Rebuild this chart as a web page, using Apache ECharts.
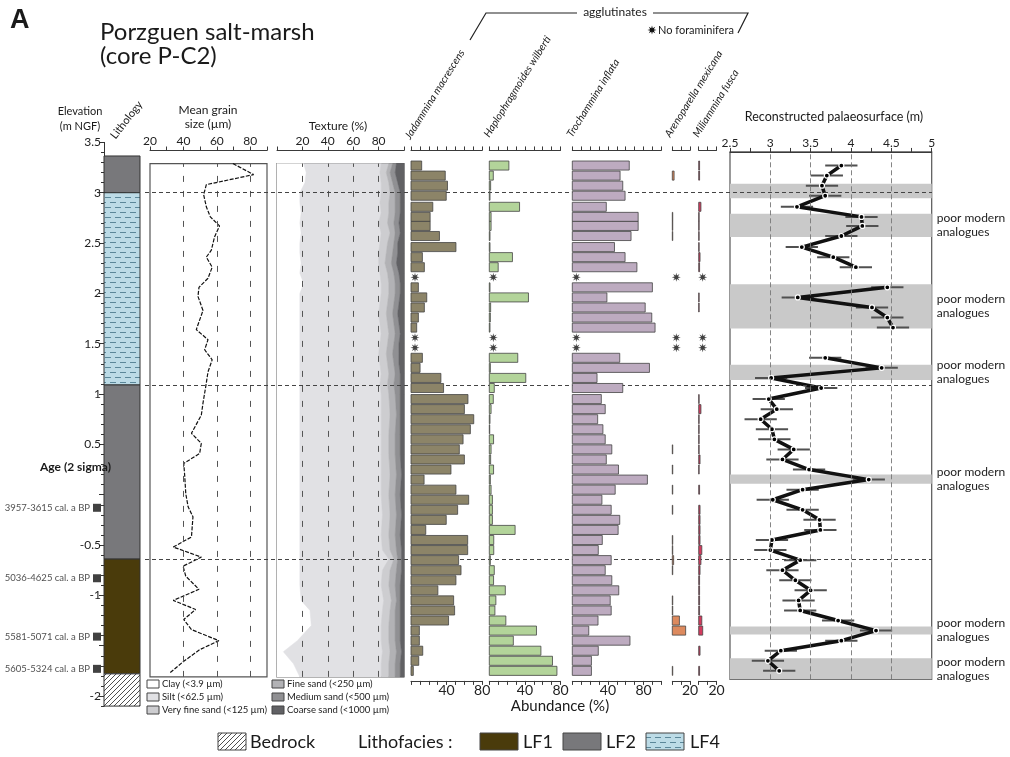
<!DOCTYPE html>
<html><head><meta charset="utf-8">
<script src="https://cdn.jsdelivr.net/npm/echarts/dist/echarts.min.js"></script>
<style>html,body{margin:0;padding:0;background:#fff}#c{width:1010px;height:757px}</style>
</head><body><div id="c"></div>
<script>
const FONT = 'Lato, "Open Sans", sans-serif';
function hasFont(name) {
  const g = document.createElement('canvas').getContext('2d');
  const s = '3957-3615 cal. a BP mmmWWiil';
  g.font = '20px monospace'; const a = g.measureText(s).width;
  g.font = '20px "' + name + '", monospace'; const b = g.measureText(s).width;
  return Math.abs(a - b) > 0.5;
}
const NARROW_OK = hasFont('Liberation Sans Narrow');
const NARROW = NARROW_OK ? '"Liberation Sans Narrow", ' + FONT : FONT;
const NARROW_SIZE = NARROW_OK ? 11 : 9.5;

// ---------------- DATA ----------------
const elevTickValues = [-2, -1.5, -1, -0.5, 0, 0.5, 1, 1.5, 2, 2.5, 3, 3.5];
const elevLabelValues = [-2, -1, -0.5, 0.5, 1, 1.5, 2, 2.5, 3, 3.5];

const lithoTop    = [3.365, 3.0, 1.09, -0.64, -1.78];
const lithoBottom = [3.0, 1.09, -0.64, -1.78, -2.1];
const lithoType   = ['LF2', 'LF4', 'LF2', 'LF1', 'Bedrock'];
const unitBoundaries = [3.0, 1.09, -0.64];

const ageLabels = ['3957-3615 cal. a BP', '5036-4625 cal. a BP', '5581-5071 cal. a BP', '5605-5324 cal. a BP'];
const ageElev   = [-0.13, -0.83, -1.41, -1.73];

const gsDepth = [3.29, 3.18, 3.08, 2.98, 2.86, 2.76, 2.67, 2.56, 2.43, 2.36, 2.26, 2.15, 2.06, 1.97, 1.83, 1.64, 1.54, 1.44, 1.34, 1.22,
  1.11, 0.91, 0.79, 0.61, 0.51, 0.41, 0.31, 0.18, 0.01, -0.12, -0.22, -0.42, -0.52, -0.62, -0.71, -0.81, -0.94, -1.05, -1.14, -1.24,
  -1.34, -1.45, -1.54, -1.66, -1.77];
const gsValue = [69.6, 82, 53.7, 52.1, 53.7, 56.1, 61.6, 58.6, 56.7, 53.7, 57.2, 54.7, 49.3, 48.7, 51.7, 47.7, 54.7, 52.7, 57.2, 54.7,
  53.7, 51.7, 50.7, 44.8, 50.7, 49.7, 40.2, 40.8, 41.4, 42.8, 45.7, 44.8, 33.9, 50.7, 39.8, 41.4, 49.3, 33.9, 47.3, 40.2,
  44.8, 61.2, 49.7, 39.8, 31.9];

const texDepth = [3.29, 3.20, 3.10, 3.00, 2.90, 2.80, 2.70, 2.60, 2.50, 2.40, 2.30, 2.20, 2.10, 2.00, 1.90, 1.80, 1.70, 1.60, 1.50, 1.40,
  1.30, 1.20, 1.10, 1.00, 0.80, 0.60, 0.40, 0.20, 0.00, -0.20, -0.40, -0.55, -0.64, -0.75, -0.90, -1.05, -1.15, -1.30, -1.45, -1.56, -1.68, -1.81];
const texClay   = [21,23,22,18,18,19,18,19,18,18, 19,18,21,18,18,18,18,18,18,18, 18,18,18,18,18,18,18,18,18,18, 18,18,18,18,18,19,26,27,16,5, 13,18];
const texSilt   = [61,58,60,64,63,63,62,63,63,62, 61,63,61,64,63,62,63,64,63,62, 63,64,63,64,64,64,64,64,64,65, 64,65,70,65,64,65,57,55,66,78, 69,64];
const texVfSand = [6,5,6,7,7,6,7,7,6,6, 5,6,6,6,6,6,6,6,6,6, 6,6,6,6,7,6,6,7,6,6, 6,6,4,6,6,6,6,6,6,6, 6,6];
const texFSand  = [3,3,3,4,5,5,5,4,5,5, 5,5,5,5,5,5,5,5,5,5, 5,5,5,5,5,5,5,5,5,5, 5,5,3,5,5,4,4,5,5,5, 5,5];
const texMSand  = [3,4,4,4,4,4,4,4,3,4, 4,4,4,4,4,4,4,4,4,5, 4,4,5,4,3,4,4,4,4,4, 4,4,3,4,4,3,4,4,4,4, 4,4];
const texCSand  = [6,7,5,3,3,3,4,3,5,5, 6,4,3,3,4,5,4,3,4,4, 4,3,3,3,3,3,3,2,3,2, 3,2,2,2,3,3,3,3,3,2, 3,3];

const sampleDepth = [3.27, 3.17, 3.07, 2.97, 2.86, 2.76, 2.67, 2.57, 2.46, 2.36, 2.26, 2.16, 2.06, 1.96, 1.86, 1.76, 1.66, 1.56, 1.46, 1.36,
  1.26, 1.16, 1.06, 0.95, 0.85, 0.75, 0.65, 0.55, 0.45, 0.35, 0.25, 0.15, 0.05, -0.05, -0.15, -0.25, -0.35, -0.45, -0.55, -0.65,
  -0.75, -0.85, -0.95, -1.05, -1.15, -1.25, -1.35, -1.45, -1.55, -1.65, -1.75];
// null = no foraminifera
const jadammina = [12, 38.5, 41, 39.6, 24.5, 21.5, 21.5, 32, 50.5, 12.8, 15, null, 8.3, 17.7, 15, 8.3, 6.4, null, null, 12.8,
  10.2, 33.6, 36.6, 64, 60, 70.5, 66.7, 58.5, 54.3, 60, 44.9, 14.7, 50.5, 64.8, 52.4, 39.6, 16.6, 63.7, 63.7, 53.5,
  56.2, 50.5, 30.2, 47.9, 49, 42.2, 9.4, 9.4, 13.2, 8.7, 2.6];
const haplophragmoides = [22, 4.5, 1.5, 0.8, 34, 2, 2, 0.8, 0.8, 26, 10, null, 0.8, 44, 1.5, 1.2, 0.8, null, null, 32,
  1.2, 41, 5.6, 4.5, 2, 0.8, 0.5, 4.8, 2, 1.5, 4.8, 1.2, 2, 3.5, 3.5, 3.5, 29, 5, 5, 1.2,
  5.6, 4.8, 18, 7.4, 6.3, 18.6, 53, 27, 58, 71, 76];
const trochammina = [64, 53.7, 56.7, 59.3, 38.2, 74, 74, 66, 47.4, 59.3, 72.6, null, 90, 38.9, 81.9, 89.3, 93, null, null, 53.3,
  86.7, 27.8, 56.7, 32.6, 37, 28.5, 34.4, 37, 44.4, 38.2, 51.9, 84.4, 48.2, 33.3, 43.7, 53.3, 51.5, 33.7, 29.2, 43.7,
  37, 44.4, 52.2, 42.6, 43.7, 28.9, 18.5, 64.8, 29.2, 21.5, 21.5];
const arenoparella = [0, 2, 0, 0, 0, 0.5, 0.5, 0.5, 0, 0, 0, null, 0, 0, 0, 0, 0, null, null, 0,
  0, 0, 0, 0, 0, 0, 0, 0, 0.5, 0, 0.5, 0, 0.5, 0, 0.5, 0, 0, 0.5, 0.5, 1.5,
  0.5, 0, 0, 0.5, 0.5, 8, 15, 0, 0, 0, 0.5];
const miliammina = [1, 1, 0, 0, 2.5, 0.5, 0.5, 0.5, 0.5, 1.5, 1, null, 0, 0.5, 0.5, 0, 0, null, null, 0,
  0, 0, 0, 0.5, 2.5, 0.5, 0.5, 0.5, 0.5, 1.5, 0.5, 0, 1, 0, 1.5, 1.5, 1.5, 1.5, 3.5, 2.5,
  1.5, 1, 1, 1, 1, 3.5, 4.5, 0, 1.5, 0, 1];

const palaeo = [3.88, 3.70, 3.64, 3.68, 3.33, 4.13, 4.14, 3.88, 3.39, 3.78, 4.06, null, 4.45, 3.34, 4.26, 4.45, 4.52, null, null, 3.68,
  4.38, 3.01, 3.63, 2.98, 3.08, 2.88, 3.02, 3.05, 3.29, 3.15, 3.48, 4.22, 3.40, 3.03, 3.40, 3.61, 3.62, 3.02, 3.00, 3.37,
  3.15, 3.31, 3.50, 3.35, 3.37, 3.84, 4.31, 3.88, 3.13, 2.97, 3.11];
const palaeoErr = [0.2, 0.2, 0.2, 0.2, 0.2, 0.2, 0.2, 0.2, 0.2, 0.2, 0.2, null, 0.2, 0.2, 0.2, 0.2, 0.2, null, null, 0.2,
  0.2, 0.2, 0.2, 0.2, 0.2, 0.2, 0.2, 0.2, 0.2, 0.2, 0.2, 0.2, 0.2, 0.2, 0.2, 0.2, 0.2, 0.2, 0.2, 0.2,
  0.2, 0.2, 0.2, 0.2, 0.2, 0.2, 0.2, 0.2, 0.2, 0.2, 0.2];

const poorTop    = [3.09, 2.79, 2.09, 1.29, 0.20, -1.31, -1.625];
const poorBottom = [2.945, 2.56, 1.65, 1.14, 0.11, -1.39, -1.834];
const poorLabelled = [false, true, true, true, true, true, true];

// ---------------- LAYOUT ----------------
const K = 100.66, Y0 = 494.7;           // px per metre, pixel row of 0 m
function vgrid(left, width, maxE, minE, extra) {
  return Object.assign({left: left, width: width, top: Y0 - maxE * K, height: (maxE - minE) * K,
    containLabel: false, outerBoundsMode: 'none'}, extra || {});
}
function hidden(gi, min, max) { return {gridIndex: gi, type: 'value', min: min, max: max, show: false}; }
const AXC = '#3a3a3a';
function xAx(gi, pos, min, max, interval, labels, offset, fs) {
  return {gridIndex: gi, type: 'value', position: pos, offset: offset || 0, min: min, max: max, interval: interval,
    axisLine: {show: true, onZero: false, lineStyle: {color: AXC, width: 1}},
    axisTick: {show: true, inside: false, length: 4, lineStyle: {color: AXC}},
    axisLabel: {show: labels.length > 0, margin: 3, fontSize: fs || 12, color: '#222', fontFamily: FONT,
      showMinLabel: true, showMaxLabel: true,
      formatter: v => labels.some(l => Math.abs(l - v) < 1e-9) ? String(v) : ''},
    splitLine: {show: false}, minorTick: {show: false}};
}

function makePattern(kind) {
  const c = document.createElement('canvas');
  const g = c.getContext('2d');
  if (kind === 'LF4') {
    c.width = 10; c.height = 10;
    g.fillStyle = '#bcdbe6'; g.fillRect(0, 0, 10, 10);
    g.strokeStyle = '#5b8799'; g.lineWidth = 1; g.beginPath();
    g.moveTo(0, 2.5); g.lineTo(6, 2.5);
    g.moveTo(5, 7.5); g.lineTo(10, 7.5); g.moveTo(0, 7.5); g.lineTo(1, 7.5);
    g.stroke();
  } else {
    c.width = 5; c.height = 5;
    g.fillStyle = '#ffffff'; g.fillRect(0, 0, 5, 5);
    g.strokeStyle = '#222'; g.lineWidth = 0.8; g.beginPath();
    g.moveTo(0, 5); g.lineTo(5, 0); g.moveTo(-1, 1); g.lineTo(1, -1); g.moveTo(4, 6); g.lineTo(6, 4);
    g.stroke();
  }
  return {image: c, repeat: 'repeat'};
}
const lithoFill = {LF1: '#4a3b0b', LF2: '#78787b', LF4: makePattern('LF4'), Bedrock: makePattern('bed')};

function starPoints(cx, cy, n, ro, ri) {
  const pts = [];
  for (let i = 0; i < 2 * n; i++) {
    const a = Math.PI * i / n, r = i % 2 ? ri : ro;
    pts.push([cx + r * Math.sin(a), cy - r * Math.cos(a)]);
  }
  return pts;
}
const starSymbol = 'path://' + starPoints(0, 0, 8, 10, 4).map((p, i) => (i ? 'L' : 'M') + p[0].toFixed(2) + ' ' + p[1].toFixed(2)).join(' ') + 'Z';

const texFractions = [texClay, texSilt, texVfSand, texFSand, texMSand, texCSand];
const texColors = ['#ffffff', '#e1e1e4', '#cdcdd0', '#b2b2b5', '#909093', '#616164'];

const species = [
  {label: 'Jadammina macrescens', values: jadammina, max: 80, left: 411, color: '#8c8468', labels: [40, 80], lab: [412, 141]},
  {label: 'Haplophragmoides wilberti', values: haplophragmoides, max: 80, left: 489.3, color: '#b3d49a', labels: [40, 80], lab: [491, 139]},
  {label: 'Trochammina inflata', values: trochammina, max: 100, left: 572.3, color: '#bdabc0', labels: [40, 80], lab: [574, 139]},
  {label: 'Arenoparella mexicana', values: arenoparella, max: 20, left: 672.3, color: '#dd8a5e', labels: [20], lab: [672, 139]},
  {label: 'Miliammina fusca', values: miliammina, max: 20, left: 698.7, color: '#d43a5e', labels: [20], lab: [700, 139]}
];
const BAR_PX = 0.89;

// ---------------- OPTION ----------------
const grids = [], xAxes = [], yAxes = [], series = [];

// 0 : ages
grids.push(vgrid(0, 100, 3.5, -2.1));
xAxes.push(hidden(0, 0, 100)); yAxes.push(hidden(0, -2.1, 3.5));
series.push({type: 'scatter', xAxisIndex: 0, yAxisIndex: 0, silent: true, symbol: 'rect', symbolSize: 8,
  itemStyle: {color: '#111'},
  label: {show: true, position: 'left', distance: 3, formatter: '{b}', fontSize: NARROW_SIZE, color: '#222', fontFamily: NARROW},
  data: ageLabels.map((n, i) => ({name: n, value: [97, ageElev[i]]}))});

// 1 : lithology + elevation axis
grids.push(vgrid(104, 36, 3.5, -2.1));
xAxes.push(hidden(1, 0, 1));
yAxes.push({gridIndex: 1, type: 'value', min: -2.1, max: 3.5, position: 'left',
  axisLine: {show: true, onZero: false, lineStyle: {color: '#333'}},
  axisTick: {show: true, length: 5, customValues: elevTickValues, lineStyle: {color: '#333'}},
  axisLabel: {show: true, customValues: elevLabelValues, margin: 3, fontSize: 12, color: '#222', fontFamily: FONT},
  splitLine: {show: false}, minorTick: {show: false}});
series.push({type: 'custom', xAxisIndex: 1, yAxisIndex: 1, silent: true, z: 2,
  data: lithoTop.map((t, i) => [t, lithoBottom[i]]),
  encode: {y: [0, 1]},
  renderItem: (params, api) => {
    const i = params.dataIndex;
    const p1 = api.coord([0, api.value(0)]), p2 = api.coord([1, api.value(1)]);
    return {type: 'rect', shape: {x: p1[0], y: p1[1], width: p2[0] - p1[0], height: p2[1] - p1[1]},
      style: {fill: lithoFill[lithoType[i]], stroke: '#333', lineWidth: 1}};
  }});
// minor elevation ticks (every 0.1 m)
const minorTicks = [];
for (let v = -21; v <= 35; v++) minorTicks.push(v / 10);
yAxes.push({gridIndex: 1, type: 'value', min: -2.1, max: 3.5, position: 'left',
  axisLine: {show: false}, axisTick: {show: true, length: 3, customValues: minorTicks, lineStyle: {color: '#333'}},
  axisLabel: {show: false}, splitLine: {show: false}});

// 2 : grain size
grids.push(vgrid(150, 117, 3.29, -1.81, {show: true, borderColor: '#555', borderWidth: 1.2}));
xAxes.push(xAx(2, 'top', 20, 90, 10, [20, 40, 60, 80], 13));
yAxes.push(hidden(2, -1.81, 3.29)); // yAxis 3
series.push({type: 'line', xAxisIndex: 2, yAxisIndex: 3, silent: true, z: 4, symbol: 'none',
  lineStyle: {color: '#111', width: 1.2, type: [4, 1.5]},
  data: gsDepth.map((d, i) => [gsValue[i], d]),
  markLine: {silent: true, symbol: 'none', label: {show: false},
    lineStyle: {color: '#555', type: [6, 9], width: 1},
    data: [{xAxis: 40}, {xAxis: 60}, {xAxis: 80}]}});

// 3 : texture
grids.push(vgrid(277, 127, 3.29, -1.81, {show: true, borderColor: '#555', borderWidth: 1.2}));
xAxes.push(xAx(3, 'top', 0, 100, 20, [20, 40, 60, 80], 13));
yAxes.push(hidden(3, -1.81, 3.29)); // yAxis 4
series.push({type: 'custom', xAxisIndex: 3, yAxisIndex: 4, silent: true, z: 1,
  data: texFractions.map((f, k) => [k]),
  renderItem: (params, api) => {
    const k = params.dataIndex;
    const left = texDepth.map((d, j) => { let s = 0; for (let q = 0; q < k; q++) s += texFractions[q][j]; return s; });
    const pts = [];
    texDepth.forEach((d, j) => pts.push(api.coord([left[j], d])));
    for (let j = texDepth.length - 1; j >= 0; j--) pts.push(api.coord([left[j] + texFractions[k][j], texDepth[j]]));
    return {type: 'polygon', shape: {points: pts}, style: {fill: texColors[k], stroke: texColors[k], lineWidth: 0.5}};
  }});
series.push({type: 'line', xAxisIndex: 3, yAxisIndex: 4, silent: true, z: 3, data: [],
  markLine: {silent: true, symbol: 'none', label: {show: false},
    lineStyle: {color: '#555', type: [6, 9], width: 1},
    data: [{xAxis: 20}, {xAxis: 40}, {xAxis: 60}, {xAxis: 80}]}});

// 4..8 : foraminifera bars
species.forEach((sp, s) => {
  const gi = 4 + s;
  grids.push(vgrid(sp.left, sp.max * BAR_PX, 3.42, -1.85));
  const xb = xAxes.length;
  xAxes.push(xAx(gi, 'bottom', 0, sp.max, 10, sp.labels, 0, 14));
  xAxes.push(xAx(gi, 'top', 0, sp.max, 10, [], 0));
  const yi = yAxes.length;
  yAxes.push(hidden(gi, -1.85, 3.42));
  series.push({type: 'custom', xAxisIndex: xb, yAxisIndex: yi, silent: true, z: 5,
    data: sampleDepth.map((d, i) => [sp.values[i], d]).filter(p => p[0] !== null && p[0] > 0),
    renderItem: (params, api) => {
      const v = api.value(0), d = api.value(1);
      const p0 = api.coord([0, d]), p1 = api.coord([v, d]);
      const h = api.size([0, 0.09])[1];
      return {type: 'rect', shape: {x: p0[0], y: p0[1] - h / 2, width: Math.max(p1[0] - p0[0], 0.3), height: h},
        style: {fill: sp.color, stroke: '#444', lineWidth: 0.8}};
    }});
  series.push({type: 'scatter', xAxisIndex: xb, yAxisIndex: yi, silent: true, z: 6,
    symbol: starSymbol, symbolSize: 9, symbolOffset: [4, 0], itemStyle: {color: '#111'},
    data: sampleDepth.filter((d, i) => sp.values[i] === null).map(d => [0, d])});
});

// 9 : palaeosurface
const pg = 9;
grids.push(vgrid(730, 201.7, 3.405, -1.834, {show: true, borderColor: '#555', borderWidth: 1.2}));
const px = xAxes.length;
xAxes.push(xAx(pg, 'top', 2.5, 5, 0.25, [2.5, 3, 3.5, 4, 4.5, 5], 0));
const py = yAxes.length;
yAxes.push(hidden(pg, -1.834, 3.405));
series.push({type: 'line', xAxisIndex: px, yAxisIndex: py, silent: true, z: 1, data: [],
  markArea: {silent: true, itemStyle: {color: '#c9c9c9'},
    label: {show: true, position: 'right', distance: 5, formatter: 'poor modern\nanalogues', fontSize: 12,
      lineHeight: 14, color: '#222', fontFamily: FONT},
    data: poorTop.map((t, i) => [{yAxis: t, label: {show: poorLabelled[i]}}, {yAxis: poorBottom[i]}])}});
series.push({type: 'line', xAxisIndex: px, yAxisIndex: py, silent: true, z: 2, data: [],
  markLine: {silent: true, symbol: 'none', label: {show: false},
    lineStyle: {color: '#777', type: [5, 3], width: 0.9},
    data: [{xAxis: 3}, {xAxis: 3.5}, {xAxis: 4}, {xAxis: 4.5}]}});
series.push({type: 'custom', xAxisIndex: px, yAxisIndex: py, silent: true, z: 3,
  data: sampleDepth.map((d, i) => [palaeo[i], d, palaeoErr[i]]).filter(p => p[0] !== null),
  renderItem: (params, api) => {
    const v = api.value(0), d = api.value(1), e = api.value(2);
    const a = api.coord([v - e, d]), b = api.coord([v + e, d]);
    return {type: 'line', shape: {x1: a[0], y1: a[1], x2: b[0], y2: b[1]}, style: {stroke: '#505050', lineWidth: 2}};
  }});
series.push({type: 'line', xAxisIndex: px, yAxisIndex: py, silent: true, z: 4, connectNulls: false,
  symbol: 'circle', symbolSize: 5, showAllSymbol: true,
  itemStyle: {color: '#000', borderColor: '#fff', borderWidth: 1.2},
  lineStyle: {color: '#111', width: 3.5},
  data: sampleDepth.map((d, i) => palaeo[i] === null ? ['-', d] : [palaeo[i], d])});

// 10 : overlay for lithological boundaries
const og = 10;
grids.push(vgrid(145, 787, 3.5, -2.1));
const ox = xAxes.length; xAxes.push(hidden(og, 0, 1));
const oy = yAxes.length; yAxes.push(hidden(og, -2.1, 3.5));
series.push({type: 'line', xAxisIndex: ox, yAxisIndex: oy, silent: true, z: 3, data: [],
  markLine: {silent: true, symbol: 'none', label: {show: false},
    lineStyle: {color: '#444', type: [4, 3], width: 1},
    data: unitBoundaries.map(b => ({yAxis: b}))}});

// ---------------- GRAPHIC ----------------
function T(x, y, text, o) {
  o = o || {};
  return {type: 'text', x: x, y: y, rotation: o.rot || 0, z: 100, silent: true,
    style: {text: text, fill: o.color || '#1a1a1a', fontSize: o.size || 12, fontFamily: o.family || FONT,
      fontStyle: o.italic ? 'italic' : 'normal', fontWeight: o.bold ? 'bold' : 'normal',
      textAlign: o.align || 'left', align: o.align || 'left',
      textVerticalAlign: o.valign || 'middle', verticalAlign: o.valign || 'middle'}};
}
function R(x, y, w, h, fill) {
  return {type: 'rect', z: 100, silent: true, shape: {x: x, y: y, width: w, height: h}, style: {fill: fill, stroke: '#444', lineWidth: 1}};
}
const ROT = 58 * Math.PI / 180;
const LEG = {size: NARROW_SIZE, family: NARROW};
const graphic = [
  T(10, 21, 'A', {size: 27, bold: true, family: '"Liberation Sans", Arial, sans-serif'}),
  T(100, 32, 'Porzguen salt-marsh', {size: 24}),
  T(100, 56, '(core P-C2)', {size: 24}),
  T(80, 111, 'Elevation', {size: 11, align: 'center'}),
  T(80, 126, '(m NGF)', {size: 11, align: 'center'}),
  T(117, 141, 'Lithology', {size: 11, rot: 52 * Math.PI / 180, valign: 'bottom'}),
  T(208, 110, 'Mean grain', {size: 12, align: 'center'}),
  T(208, 124, 'size (µm)', {size: 12, align: 'center'}),
  T(338, 126, 'Texture (%)', {size: 12, align: 'center'}),
  T(834, 117, 'Reconstructed palaeosurface (m)', {size: 12.5, align: 'center'}),
  T(40, 467, 'Age (2 sigma)', {size: 12, bold: true}),
  T(560, 706, 'Abundance (%)', {size: 15, align: 'center'}),
  {type: 'polyline', z: 100, silent: true, shape: {points: [[470, 40], [486, 13], [577, 13]]}, style: {stroke: '#222', lineWidth: 1.2, fill: null}},
  {type: 'polyline', z: 100, silent: true, shape: {points: [[653, 13], [748, 13], [738, 33]]}, style: {stroke: '#222', lineWidth: 1.2, fill: null}},
  T(615, 12, 'agglutinates', {size: 12, align: 'center'}),
  {type: 'polygon', z: 100, silent: true, shape: {points: starPoints(652, 30, 8, 4.5, 2)}, style: {fill: '#111'}},
  T(658, 30, 'No foraminifera', {size: 11, family: NARROW}),
  // grain-size / texture legends
  R(147, 680, 12, 8, texColors[0]), T(162, 684, 'Clay (<3.9 µm)', LEG),
  R(147, 693, 12, 8, texColors[1]), T(162, 697, 'Silt (<62.5 µm)', LEG),
  R(147, 706, 12, 8, texColors[2]), T(162, 710, 'Very fine sand (<125 µm)', LEG),
  R(272, 680, 12, 8, texColors[3]), T(287, 684, 'Fine sand (<250 µm)', LEG),
  R(272, 693, 12, 8, texColors[4]), T(287, 697, 'Medium sand (<500 µm)', LEG),
  R(272, 706, 12, 8, texColors[5]), T(287, 710, 'Coarse sand (<1000 µm)', LEG),
  // lithofacies legend
  R(218, 733, 28, 17, lithoFill.Bedrock), T(250, 742, 'Bedrock', {size: 18}),
  T(358, 742, 'Lithofacies :', {size: 18}),
  R(480, 733, 38, 17, lithoFill.LF1), T(523, 742, 'LF1', {size: 18}),
  R(563, 733, 38, 17, lithoFill.LF2), T(606, 742, 'LF2', {size: 18}),
  R(646, 733, 38, 17, lithoFill.LF4), T(690, 742, 'LF4', {size: 18})
];
species.forEach(sp => graphic.push(T(sp.lab[0], sp.lab[1], sp.label, {size: 10.5, italic: true, rot: ROT, valign: 'bottom'})));

const chart = echarts.init(document.getElementById('c'), null, {renderer: 'canvas'});
chart.setOption({
  animation: false,
  backgroundColor: '#ffffff',
  textStyle: {fontFamily: FONT},
  grid: grids, xAxis: xAxes, yAxis: yAxes, series: series, graphic: graphic
});
</script></body></html>
